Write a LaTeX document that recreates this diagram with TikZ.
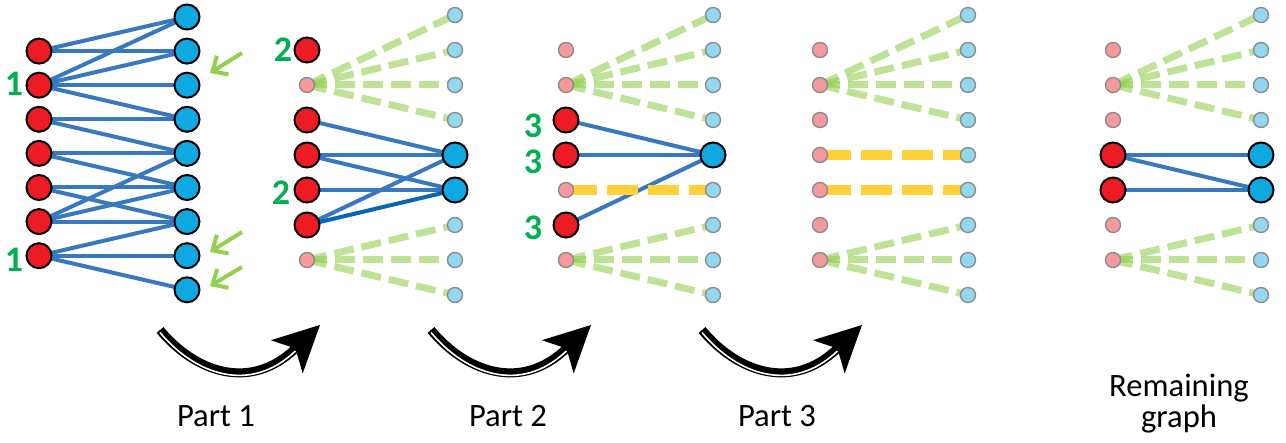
\documentclass[tikz,border=0pt]{standalone}
\usepackage{fontspec}
\setmainfont{Carlito}
\usetikzlibrary{arrows.meta,calc,backgrounds}
\definecolor{nodered}{RGB}{237,28,36}
\definecolor{nodeblue}{RGB}{16,168,224}
\definecolor{edgeblue}{RGB}{55,120,190}
\definecolor{edgedark}{RGB}{10,100,180}
\definecolor{cutgreen}{RGB}{146,208,80}
\definecolor{matchgold}{RGB}{255,208,56}
\definecolor{countgreen}{RGB}{0,176,80}
\tikzstyle{lbig}=[circle,draw=black,fill=nodered,line width=1pt,minimum size=12.5pt,inner sep=0pt]
\tikzstyle{lsmall}=[lbig,draw=black!45,fill=nodered!45,line width=0.7pt,minimum size=7.5pt]
\tikzstyle{rbig}=[lbig,fill=nodeblue]
\tikzstyle{rsmall}=[lsmall,fill=nodeblue!45]
\tikzstyle{kept}=[draw=edgeblue,line width=2pt]
\tikzstyle{removed}=[draw=cutgreen,opacity=0.6,line width=3.5pt,dash pattern=on 10pt off 4pt]
\tikzstyle{matched}=[draw=matchgold,line width=5pt,dash pattern=on 15.5pt off 5pt]
\tikzstyle{tally}=[text=countgreen,font=\fontsize{18pt}{18pt}\selectfont\bfseries,inner sep=0pt]
\tikzstyle{caption}=[font=\fontsize{16.3pt}{15.5pt}\selectfont,align=center,inner sep=0pt]
\tikzstyle{pointer}=[draw=cutgreen,line width=2pt,-{Straight Barb[length=6pt,width=11pt]}]
\tikzstyle{bigarrow}=[line width=4.5pt,-{Stealth[length=23pt,width=23pt,inset=6pt,line width=0pt]}]

\begin{document}
\begin{tikzpicture}[x=0.5pt,y=-0.5pt]
\useasboundingbox (0,0) rectangle (1286,443);
\def\dy{35}

% panel 1: the whole graph
\foreach \k in {1,...,7}
  \node[lbig] (l1-\k) at (39,{17+34.1*\k}) {};
\foreach \k in {0,...,8}
  \node[rbig] (r1-\k) at (187,{17+34.1*\k}) {};

% panel 2
\foreach \k/\s in {1/lbig,2/lsmall,3/lbig,4/lbig,5/lbig,6/lbig,7/lsmall}
  \node[\s] (l2-\k) at (307,{15+\dy*\k}) {};
\foreach \k/\s in {0/rsmall,1/rsmall,2/rsmall,3/rsmall,4/rbig,5/rbig,6/rsmall,7/rsmall,8/rsmall}
  \node[\s] (r2-\k) at (455,{15+\dy*\k}) {};

% panel 3
\foreach \k/\s in {1/lsmall,2/lsmall,3/lbig,4/lbig,5/lsmall,6/lbig,7/lsmall}
  \node[\s] (l3-\k) at (566,{15+\dy*\k}) {};
\foreach \k/\s in {0/rsmall,1/rsmall,2/rsmall,3/rsmall,4/rbig,5/rsmall,6/rsmall,7/rsmall,8/rsmall}
  \node[\s] (r3-\k) at (713,{15+\dy*\k}) {};

% panel 4
\foreach \k in {1,...,7}
  \node[lsmall] (l4-\k) at (820,{15+\dy*\k}) {};
\foreach \k in {0,...,8}
  \node[rsmall] (r4-\k) at (968,{15+\dy*\k}) {};

% panel 5: what is left
\foreach \k/\s in {1/lsmall,2/lsmall,3/lsmall,4/lbig,5/lbig,6/lsmall,7/lsmall}
  \node[\s] (l5-\k) at (1113,{15+\dy*\k}) {};
\foreach \k/\s in {0/rsmall,1/rsmall,2/rsmall,3/rsmall,4/rbig,5/rbig,6/rsmall,7/rsmall,8/rsmall}
  \node[\s] (r5-\k) at (1261,{15+\dy*\k}) {};

\begin{pgfonlayer}{background}
\foreach \a/\b in {1/0,1/1,2/0,2/1,2/2,2/3,3/3,3/4,4/4,4/5,5/5,5/6,6/4,6/5,6/6,7/6,7/7,7/8}
  \draw[kept] (l1-\a.center) -- (r1-\b.center);
\foreach \a/\b in {3/4,4/4,4/5,5/5,6/4}
  \draw[kept] (l2-\a.center) -- (r2-\b.center);
\draw[kept,draw=edgedark] (l2-6.center) -- (r2-5.center);
\foreach \a in {3,4,6}
  \draw[kept] (l3-\a.center) -- (r3-4.center);
\draw[matched] (l3-5.center) -- (r3-5.center);
\foreach \a in {4,5}
  \draw[matched] (l4-\a.center) -- (r4-\a.center);
\foreach \a/\b in {4/4,4/5,5/5}
  \draw[kept] (l5-\a.center) -- (r5-\b.center);
\foreach \p in {2,...,5} {
  \foreach \b in {0,...,3}
    \draw[removed] (l\p-2.center) -- (r\p-\b.center);
  \foreach \b in {6,7,8}
    \draw[removed] (l\p-7.center) -- (r\p-\b.center);
};
\end{pgfonlayer}

% degree labels
\node[tally] (n1a) at (14,84) {1};
\node[tally] (n1b) at (14,260) {1};
\node[tally] (n2a) at (283,50) {2};
\node[tally] (n2b) at (281,193) {2};
\node[tally] (n3a) at (533,126) {3};
\node[tally] (n3b) at (533,162) {3};
\node[tally] (n3c) at (533,228) {3};

% pointers at the leaves
\coordinate (s1) at (242,53);  \coordinate (t1) at (210,73);
\coordinate (s2) at (242,232); \coordinate (t2) at (210,252);
\coordinate (s3) at (242,267); \coordinate (t3) at (210,286);
\foreach \i in {1,2,3}
  \draw[pointer] (s\i) -- (t\i);

% step arrows
\foreach \sx in {0,271,542} {
  \begin{scope}[shift={(\sx,0)}]
    \draw[bigarrow] (160,330) .. controls (195,372) and (250,392) .. (320,325);
    \draw[white,line width=0.8pt,shorten >=17pt,shift={(0,2.5)}] (160,330) .. controls (195,372) and (250,392) .. (320,325);
  \end{scope}
};

\node[caption,anchor=base] (part1) at (216,426) {Part 1};
\node[caption,anchor=base] (part2) at (508,426) {Part 2};
\node[caption,anchor=base] (part3) at (777,426) {Part 3};
\node[caption,anchor=base] (rest) at (1179,428) {Remaining\\graph};

\end{tikzpicture}
\end{document}
